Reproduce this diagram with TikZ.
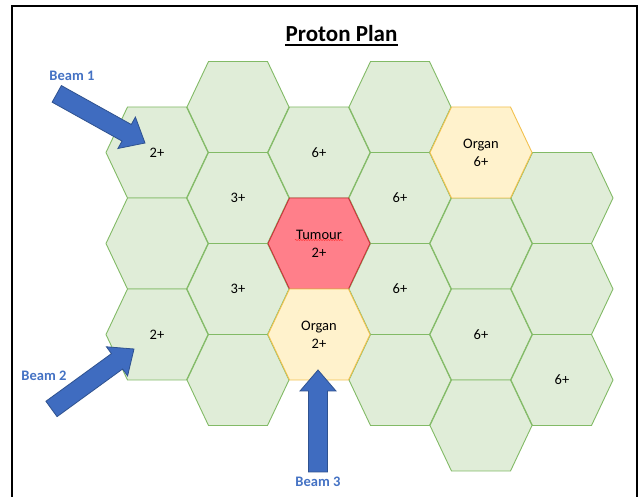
\documentclass[tikz,border=0pt]{standalone}
\usepackage{fontspec}
\setmainfont{Carlito}
\usetikzlibrary{decorations.pathmorphing}
\definecolor{hexfill}{HTML}{E0EDD8}
\definecolor{hexline}{HTML}{82BA66}
\definecolor{orgfill}{HTML}{FFF2CC}
\definecolor{orgline}{HTML}{F2C14E}
\definecolor{tumfill}{HTML}{FF7F8A}
\definecolor{tumline}{HTML}{C8323A}
\definecolor{beamfill}{HTML}{3F6CC0}
\definecolor{beamline}{HTML}{2F528F}
\definecolor{beamtext}{HTML}{4472C4}
\tikzset{
  hexa/.pic={\path[pic actions] (-51,0) -- (-29.5,-45.5) -- (29.5,-45.5) -- (51,0) -- (29.5,45.5) -- (-29.5,45.5) -- cycle;},
  cellg/.style={fill=hexfill, draw=hexline, line width=0.9pt, line join=round},
  cello/.style={fill=orgfill, draw=orgline, line width=0.9pt, line join=round},
  cellt/.style={fill=tumfill, draw=tumline, line width=0.9pt, line join=round},
  lbl/.style={font=\fontsize{14.5}{18}\selectfont, align=center, inner sep=0pt},
  beamlbl/.style={font=\fontsize{14.5}{17}\selectfont\bfseries, text=beamtext, inner sep=0pt},
  blockarrow/.style={fill=beamfill, draw=beamline, line width=0.8pt, line join=miter},
  frame/.style={draw=black, line width=1.5pt}
}
\newcommand\blockarr[4]{%
  \begin{scope}[shift={#1}, rotate=#2]
    \path[blockarrow] (0,0) -- (-21,18) -- (-21,9.5) -- (-#3,9.5) -- (-#3,-9.5) -- (-21,-9.5) -- (-21,-18) -- cycle;
    \coordinate (#4) at (0,0);
  \end{scope}}
\begin{document}
\begin{tikzpicture}[x=1pt,y=-1pt]
\useasboundingbox (0,0) rectangle (641,497);
\fill[white] (0,0) rectangle (641,497);
\clip (0,0) rectangle (641,497);
\draw[frame] (12,6) rectangle (637,530);

% title
\node[font=\fontsize{23}{26}\selectfont\bfseries, inner sep=0pt, anchor=base] (title) at (341.5,42) {Proton Plan};
\draw[line width=1.6pt] ([yshift=-3.2pt]title.base west) -- ([yshift=-3.2pt]title.base east);

% green cells
\pic[cellg] at (157,152.5) {hexa};
\pic[cellg] at (157,243.5) {hexa};
\pic[cellg] at (157,334.5) {hexa};
\pic[cellg] at (238,107) {hexa};
\pic[cellg] at (238,198) {hexa};
\pic[cellg] at (238,289) {hexa};
\pic[cellg] at (238,380) {hexa};
\pic[cellg] at (319,152.5) {hexa};
\pic[cellg] at (400,107) {hexa};
\pic[cellg] at (400,198) {hexa};
\pic[cellg] at (400,289) {hexa};
\pic[cellg] at (400,380) {hexa};
\pic[cellg] at (481,243.5) {hexa};
\pic[cellg] at (481,334.5) {hexa};
\pic[cellg] at (481,425.5) {hexa};
\pic[cellg] at (562,198) {hexa};
\pic[cellg] at (562,289) {hexa};
\pic[cellg] at (562,380) {hexa};
% special cells
\pic[cellt] at (319,243.5) {hexa};
\pic[cello] at (319,334.5) {hexa};
\pic[cello] at (481,152.5) {hexa};

% labels
\node[lbl] (c11) at (157,152.5) {2+};
\node[lbl] (c13) at (157,334.5) {2+};
\node[lbl] (c22) at (238,198) {3+};
\node[lbl] (c23) at (238,289) {3+};
\node[lbl] (c31) at (319,152.5) {6+};
\node[lbl] (tum) at (319,243.5) {Tumour\\2+};
\node[lbl] (org1) at (319,334.5) {Organ\\2+};
\node[lbl] (c42) at (400,198) {6+};
\node[lbl] (c43) at (400,289) {6+};
\node[lbl] (org2) at (481,152.5) {Organ\\6+};
\node[lbl] (c53) at (481,334.5) {6+};
\node[lbl] (c63) at (562,380) {6+};
\draw[red!80, line width=0.5pt, decorate, decoration={snake, amplitude=0.6pt, segment length=2.5pt}]
  ([xshift=-24pt]tum.center) ++(0,-3.5) -- ++(48,0);

% beams
\blockarr{(145,143)}{-29.1}{101}{b1tip}
\blockarr{(134,349)}{36}{102}{b2tip}
\blockarr{(318,370)}{90}{102}{b3tip}
\node[beamlbl] (beam1) at (72,76) {Beam 1};
\node[beamlbl] (beam2) at (44,376) {Beam 2};
\node[beamlbl] (beam3) at (318,482) {Beam 3};
\end{tikzpicture}
\end{document}
